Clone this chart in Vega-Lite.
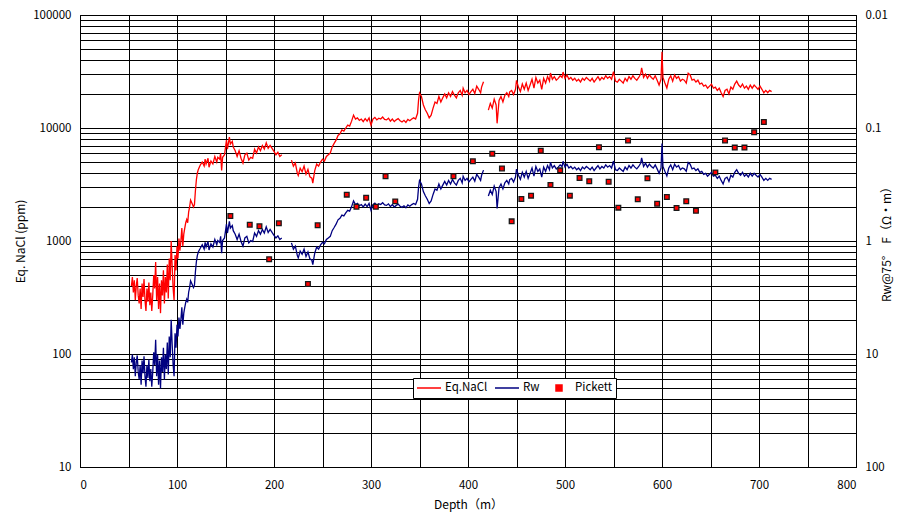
{
"$schema": "https://vega.github.io/schema/vega-lite/v6.json",
"width": 776, "height": 452,
"autosize": "none",
"padding": {"left": 80, "top": 15, "right": 50, "bottom": 49},
"background": "white",
"config": {
  "font": "Noto Sans CJK JP",
  "view": {"stroke": "#000", "strokeWidth": 1},
  "axis": {"labelFont": "Noto Sans CJK JP", "labelFontSize": 11.5, "labelColor": "#000", "titleFont": "Noto Sans CJK JP", "titleFontSize": 12, "titleFontWeight": "normal", "titleColor": "#000", "domainColor": "#000", "gridColor": "#000", "gridOpacity": 1, "gridWidth": 1, "ticks": false}
},
"datasets": {
"nacl": [
{"depth":53,"ppm":400,"seg":1},{"depth":54,"ppm":480,"seg":1},{"depth":55,"ppm":350,"seg":1},{"depth":56,"ppm":450,"seg":1},{"depth":57,"ppm":300,"seg":1},{"depth":58,"ppm":400,"seg":1},{"depth":59,"ppm":470,"seg":1},{"depth":60,"ppm":330,"seg":1},{"depth":61,"ppm":280,"seg":1},{"depth":62,"ppm":380,"seg":1},{"depth":63,"ppm":250,"seg":1},{"depth":64,"ppm":420,"seg":1},{"depth":65,"ppm":320,"seg":1},{"depth":66,"ppm":460,"seg":1},{"depth":67,"ppm":300,"seg":1},{"depth":68,"ppm":240,"seg":1},{"depth":69,"ppm":380,"seg":1},{"depth":70,"ppm":290,"seg":1},{"depth":71,"ppm":430,"seg":1},{"depth":72,"ppm":270,"seg":1},{"depth":73,"ppm":350,"seg":1},{"depth":74,"ppm":240,"seg":1},{"depth":75,"ppm":330,"seg":1},{"depth":76,"ppm":500,"seg":1},{"depth":77,"ppm":380,"seg":1},{"depth":78,"ppm":650,"seg":1},{"depth":79,"ppm":300,"seg":1},{"depth":80,"ppm":480,"seg":1},{"depth":81,"ppm":250,"seg":1},{"depth":82,"ppm":420,"seg":1},{"depth":83,"ppm":230,"seg":1},{"depth":84,"ppm":450,"seg":1},{"depth":85,"ppm":330,"seg":1},{"depth":86,"ppm":550,"seg":1},{"depth":87,"ppm":280,"seg":1},{"depth":88,"ppm":480,"seg":1},{"depth":89,"ppm":350,"seg":1},{"depth":90,"ppm":620,"seg":1},{"depth":91,"ppm":310,"seg":1},{"depth":92,"ppm":700,"seg":1},{"depth":93,"ppm":450,"seg":1},{"depth":94,"ppm":1000,"seg":1},{"depth":95,"ppm":600,"seg":1},{"depth":96,"ppm":380,"seg":1},{"depth":97,"ppm":300,"seg":1},{"depth":98,"ppm":750,"seg":1},{"depth":99,"ppm":550,"seg":1},{"depth":100,"ppm":900,"seg":1},{"depth":101,"ppm":700,"seg":1},{"depth":102,"ppm":1050,"seg":1},{"depth":103,"ppm":820,"seg":1},{"depth":104,"ppm":1000,"seg":1},{"depth":105,"ppm":1300,"seg":1},{"depth":106,"ppm":900,"seg":1},{"depth":107,"ppm":1150,"seg":1},{"depth":108,"ppm":1300,"seg":1},{"depth":109,"ppm":1450,"seg":1},{"depth":110,"ppm":1550,"seg":1},{"depth":111,"ppm":1450,"seg":1},{"depth":112,"ppm":1800,"seg":1},{"depth":113,"ppm":2000,"seg":1},{"depth":114,"ppm":2300,"seg":1},{"depth":115,"ppm":2200,"seg":1},{"depth":116,"ppm":2100,"seg":1},{"depth":117,"ppm":2000,"seg":1},{"depth":118,"ppm":2100,"seg":1},{"depth":119,"ppm":2800,"seg":1},{"depth":120,"ppm":3500,"seg":1},{"depth":121,"ppm":4000,"seg":1},{"depth":122,"ppm":4300,"seg":1},{"depth":123,"ppm":4500,"seg":1},{"depth":124,"ppm":4700,"seg":1},{"depth":126,"ppm":5000,"seg":1},{"depth":128,"ppm":4600,"seg":1},{"depth":129,"ppm":5300,"seg":1},{"depth":130,"ppm":4800,"seg":1},{"depth":132,"ppm":5400,"seg":1},{"depth":133,"ppm":4500,"seg":1},{"depth":135,"ppm":5100,"seg":1},{"depth":137,"ppm":4800,"seg":1},{"depth":139,"ppm":5600,"seg":1},{"depth":141,"ppm":5000,"seg":1},{"depth":142,"ppm":5500,"seg":1},{"depth":144,"ppm":5300,"seg":1},{"depth":145,"ppm":6000,"seg":1},{"depth":146,"ppm":4200,"seg":1},{"depth":147,"ppm":5500,"seg":1},{"depth":149,"ppm":5800,"seg":1},{"depth":151,"ppm":7800,"seg":1},{"depth":152,"ppm":6500,"seg":1},{"depth":154,"ppm":8300,"seg":1},{"depth":155,"ppm":7200,"seg":1},{"depth":157,"ppm":7600,"seg":1},{"depth":158,"ppm":6800,"seg":1},{"depth":160,"ppm":6300,"seg":1},{"depth":162,"ppm":5600,"seg":1},{"depth":164,"ppm":6300,"seg":1},{"depth":166,"ppm":5400,"seg":1},{"depth":168,"ppm":4900,"seg":1},{"depth":170,"ppm":5800,"seg":1},{"depth":172,"ppm":6000,"seg":1},{"depth":174,"ppm":5200,"seg":1},{"depth":176,"ppm":5500,"seg":1},{"depth":178,"ppm":5400,"seg":1},{"depth":180,"ppm":6500,"seg":1},{"depth":182,"ppm":6000,"seg":1},{"depth":184,"ppm":6800,"seg":1},{"depth":186,"ppm":6300,"seg":1},{"depth":188,"ppm":7000,"seg":1},{"depth":190,"ppm":6500,"seg":1},{"depth":192,"ppm":7400,"seg":1},{"depth":194,"ppm":6600,"seg":1},{"depth":196,"ppm":7000,"seg":1},{"depth":198,"ppm":6600,"seg":1},{"depth":200,"ppm":6200,"seg":1},{"depth":202,"ppm":5800,"seg":1},{"depth":204,"ppm":6100,"seg":1},{"depth":206,"ppm":5600,"seg":1},{"depth":208,"ppm":5800,"seg":1},
{"depth":218,"ppm":5200,"seg":2},{"depth":220,"ppm":4600,"seg":2},{"depth":222,"ppm":4900,"seg":2},{"depth":224,"ppm":4000,"seg":2},{"depth":225,"ppm":3800,"seg":2},{"depth":227,"ppm":4400,"seg":2},{"depth":229,"ppm":4100,"seg":2},{"depth":231,"ppm":4600,"seg":2},{"depth":233,"ppm":3900,"seg":2},{"depth":235,"ppm":4300,"seg":2},{"depth":237,"ppm":3700,"seg":2},{"depth":239,"ppm":3600,"seg":2},{"depth":240,"ppm":3250,"seg":2},{"depth":242,"ppm":4200,"seg":2},{"depth":244,"ppm":4800,"seg":2},{"depth":246,"ppm":4600,"seg":2},{"depth":248,"ppm":5000,"seg":2},{"depth":250,"ppm":5300,"seg":2},{"depth":252,"ppm":5100,"seg":2},{"depth":254,"ppm":5600,"seg":2},{"depth":256,"ppm":5800,"seg":2},{"depth":258,"ppm":6000,"seg":2},{"depth":260,"ppm":6800,"seg":2},{"depth":262,"ppm":7300,"seg":2},{"depth":264,"ppm":7800,"seg":2},{"depth":266,"ppm":8600,"seg":2},{"depth":268,"ppm":8900,"seg":2},{"depth":270,"ppm":9600,"seg":2},{"depth":272,"ppm":9400,"seg":2},{"depth":274,"ppm":10000,"seg":2},{"depth":276,"ppm":10600,"seg":2},{"depth":278,"ppm":10400,"seg":2},{"depth":280,"ppm":11500,"seg":2},{"depth":282,"ppm":13000,"seg":2},{"depth":284,"ppm":12000,"seg":2},{"depth":286,"ppm":12300,"seg":2},{"depth":288,"ppm":11700,"seg":2},{"depth":290,"ppm":12000,"seg":2},{"depth":292,"ppm":11400,"seg":2},{"depth":294,"ppm":12100,"seg":2},{"depth":296,"ppm":11500,"seg":2},{"depth":298,"ppm":12300,"seg":2},{"depth":300,"ppm":10600,"seg":2},{"depth":302,"ppm":12000,"seg":2},{"depth":304,"ppm":12400,"seg":2},{"depth":306,"ppm":11800,"seg":2},{"depth":308,"ppm":12200,"seg":2},{"depth":310,"ppm":12000,"seg":2},{"depth":312,"ppm":12500,"seg":2},{"depth":314,"ppm":11900,"seg":2},{"depth":316,"ppm":11800,"seg":2},{"depth":318,"ppm":12200,"seg":2},{"depth":320,"ppm":11500,"seg":2},{"depth":322,"ppm":12000,"seg":2},{"depth":324,"ppm":11400,"seg":2},{"depth":326,"ppm":11800,"seg":2},{"depth":328,"ppm":12100,"seg":2},{"depth":330,"ppm":11600,"seg":2},{"depth":332,"ppm":11300,"seg":2},{"depth":334,"ppm":11700,"seg":2},{"depth":336,"ppm":11200,"seg":2},{"depth":338,"ppm":11900,"seg":2},{"depth":340,"ppm":11600,"seg":2},{"depth":342,"ppm":12000,"seg":2},{"depth":344,"ppm":12300,"seg":2},{"depth":346,"ppm":12000,"seg":2},{"depth":348,"ppm":13500,"seg":2},{"depth":349,"ppm":17500,"seg":2},{"depth":350,"ppm":20400,"seg":2},{"depth":352,"ppm":19000,"seg":2},{"depth":354,"ppm":16000,"seg":2},{"depth":356,"ppm":14500,"seg":2},{"depth":358,"ppm":13500,"seg":2},{"depth":360,"ppm":12300,"seg":2},{"depth":362,"ppm":13000,"seg":2},{"depth":364,"ppm":15000,"seg":2},{"depth":366,"ppm":17000,"seg":2},{"depth":368,"ppm":16500,"seg":2},{"depth":370,"ppm":19000,"seg":2},{"depth":372,"ppm":17000,"seg":2},{"depth":374,"ppm":18500,"seg":2},{"depth":376,"ppm":20000,"seg":2},{"depth":378,"ppm":18500,"seg":2},{"depth":380,"ppm":20500,"seg":2},{"depth":382,"ppm":19000,"seg":2},{"depth":384,"ppm":21000,"seg":2},{"depth":386,"ppm":19500,"seg":2},{"depth":388,"ppm":18500,"seg":2},{"depth":390,"ppm":20500,"seg":2},{"depth":392,"ppm":21500,"seg":2},{"depth":394,"ppm":19500,"seg":2},{"depth":395,"ppm":22500,"seg":2},{"depth":397,"ppm":20500,"seg":2},{"depth":399,"ppm":21500,"seg":2},{"depth":401,"ppm":19800,"seg":2},{"depth":403,"ppm":21000,"seg":2},{"depth":405,"ppm":22000,"seg":2},{"depth":407,"ppm":20200,"seg":2},{"depth":409,"ppm":23500,"seg":2},{"depth":411,"ppm":22000,"seg":2},{"depth":413,"ppm":20500,"seg":2},{"depth":414,"ppm":23000,"seg":2},{"depth":416,"ppm":25700,"seg":2},
{"depth":421,"ppm":14400,"seg":3},{"depth":423,"ppm":16500,"seg":3},{"depth":425,"ppm":15000,"seg":3},{"depth":427,"ppm":18000,"seg":3},{"depth":429,"ppm":16000,"seg":3},{"depth":430,"ppm":11000,"seg":3},{"depth":432,"ppm":17500,"seg":3},{"depth":434,"ppm":19000,"seg":3},{"depth":436,"ppm":17000,"seg":3},{"depth":438,"ppm":19500,"seg":3},{"depth":440,"ppm":20500,"seg":3},{"depth":442,"ppm":19000,"seg":3},{"depth":443,"ppm":20900,"seg":3},{"depth":445,"ppm":21500,"seg":3},{"depth":447,"ppm":19800,"seg":3},{"depth":449,"ppm":22000,"seg":3},{"depth":450,"ppm":26400,"seg":3},{"depth":452,"ppm":23000,"seg":3},{"depth":454,"ppm":21000,"seg":3},{"depth":456,"ppm":24500,"seg":3},{"depth":458,"ppm":22000,"seg":3},{"depth":460,"ppm":25000,"seg":3},{"depth":462,"ppm":21500,"seg":3},{"depth":464,"ppm":24000,"seg":3},{"depth":466,"ppm":27000,"seg":3},{"depth":468,"ppm":22500,"seg":3},{"depth":470,"ppm":28000,"seg":3},{"depth":472,"ppm":25000,"seg":3},{"depth":474,"ppm":26500,"seg":3},{"depth":476,"ppm":22000,"seg":3},{"depth":478,"ppm":27500,"seg":3},{"depth":480,"ppm":25000,"seg":3},{"depth":482,"ppm":28500,"seg":3},{"depth":484,"ppm":26000,"seg":3},{"depth":485,"ppm":30700,"seg":3},{"depth":487,"ppm":27000,"seg":3},{"depth":489,"ppm":28500,"seg":3},{"depth":491,"ppm":26500,"seg":3},{"depth":493,"ppm":27500,"seg":3},{"depth":495,"ppm":29000,"seg":3},{"depth":497,"ppm":28000,"seg":3},{"depth":498,"ppm":31300,"seg":3},{"depth":500,"ppm":27500,"seg":3},{"depth":502,"ppm":29500,"seg":3},{"depth":504,"ppm":27000,"seg":3},{"depth":506,"ppm":28000,"seg":3},{"depth":508,"ppm":26500,"seg":3},{"depth":510,"ppm":27500,"seg":3},{"depth":512,"ppm":26000,"seg":3},{"depth":514,"ppm":27000,"seg":3},{"depth":516,"ppm":25500,"seg":3},{"depth":518,"ppm":27500,"seg":3},{"depth":520,"ppm":26500,"seg":3},{"depth":522,"ppm":28000,"seg":3},{"depth":524,"ppm":27000,"seg":3},{"depth":526,"ppm":26000,"seg":3},{"depth":528,"ppm":27500,"seg":3},{"depth":530,"ppm":25500,"seg":3},{"depth":532,"ppm":27000,"seg":3},{"depth":534,"ppm":28500,"seg":3},{"depth":536,"ppm":26500,"seg":3},{"depth":538,"ppm":28000,"seg":3},{"depth":540,"ppm":27000,"seg":3},{"depth":542,"ppm":29000,"seg":3},{"depth":544,"ppm":27500,"seg":3},{"depth":546,"ppm":28500,"seg":3},{"depth":548,"ppm":27000,"seg":3},{"depth":550,"ppm":31500,"seg":3},{"depth":552,"ppm":26000,"seg":3},{"depth":554,"ppm":25500,"seg":3},{"depth":556,"ppm":27000,"seg":3},{"depth":558,"ppm":26000,"seg":3},{"depth":560,"ppm":25000,"seg":3},{"depth":562,"ppm":27500,"seg":3},{"depth":564,"ppm":26000,"seg":3},{"depth":566,"ppm":28500,"seg":3},{"depth":568,"ppm":27000,"seg":3},{"depth":570,"ppm":29000,"seg":3},{"depth":572,"ppm":27500,"seg":3},{"depth":574,"ppm":26500,"seg":3},{"depth":576,"ppm":28000,"seg":3},{"depth":578,"ppm":30000,"seg":3},{"depth":579,"ppm":34000,"seg":3},{"depth":581,"ppm":28000,"seg":3},{"depth":583,"ppm":30000,"seg":3},{"depth":585,"ppm":27500,"seg":3},{"depth":587,"ppm":29500,"seg":3},{"depth":589,"ppm":28000,"seg":3},{"depth":591,"ppm":27000,"seg":3},{"depth":593,"ppm":29000,"seg":3},{"depth":595,"ppm":26500,"seg":3},{"depth":597,"ppm":24000,"seg":3},{"depth":599,"ppm":27000,"seg":3},{"depth":600,"ppm":47300,"seg":3},{"depth":601,"ppm":28000,"seg":3},{"depth":603,"ppm":25000,"seg":3},{"depth":605,"ppm":22600,"seg":3},{"depth":607,"ppm":27000,"seg":3},{"depth":609,"ppm":29000,"seg":3},{"depth":611,"ppm":26000,"seg":3},{"depth":613,"ppm":29500,"seg":3},{"depth":615,"ppm":27500,"seg":3},{"depth":617,"ppm":28500,"seg":3},{"depth":619,"ppm":26000,"seg":3},{"depth":621,"ppm":27000,"seg":3},{"depth":623,"ppm":26500,"seg":3},{"depth":625,"ppm":25000,"seg":3},{"depth":627,"ppm":30500,"seg":3},{"depth":629,"ppm":29500,"seg":3},{"depth":631,"ppm":26500,"seg":3},{"depth":633,"ppm":27000,"seg":3},{"depth":635,"ppm":25500,"seg":3},{"depth":637,"ppm":26500,"seg":3},{"depth":639,"ppm":24500,"seg":3},{"depth":641,"ppm":25000,"seg":3},{"depth":643,"ppm":23500,"seg":3},{"depth":645,"ppm":24000,"seg":3},{"depth":647,"ppm":22500,"seg":3},{"depth":649,"ppm":23500,"seg":3},{"depth":651,"ppm":24500,"seg":3},{"depth":653,"ppm":22500,"seg":3},{"depth":655,"ppm":23000,"seg":3},{"depth":657,"ppm":21500,"seg":3},{"depth":659,"ppm":22500,"seg":3},{"depth":661,"ppm":20500,"seg":3},{"depth":663,"ppm":19000,"seg":3},{"depth":665,"ppm":21500,"seg":3},{"depth":667,"ppm":22000,"seg":3},{"depth":669,"ppm":20000,"seg":3},{"depth":671,"ppm":23000,"seg":3},{"depth":673,"ppm":22000,"seg":3},{"depth":675,"ppm":24500,"seg":3},{"depth":677,"ppm":26000,"seg":3},{"depth":679,"ppm":24000,"seg":3},{"depth":681,"ppm":23000,"seg":3},{"depth":683,"ppm":24500,"seg":3},{"depth":685,"ppm":22500,"seg":3},{"depth":687,"ppm":23500,"seg":3},{"depth":689,"ppm":22000,"seg":3},{"depth":691,"ppm":24000,"seg":3},{"depth":693,"ppm":22500,"seg":3},{"depth":695,"ppm":24000,"seg":3},{"depth":697,"ppm":23000,"seg":3},{"depth":699,"ppm":22000,"seg":3},{"depth":701,"ppm":23500,"seg":3},{"depth":703,"ppm":22000,"seg":3},{"depth":705,"ppm":20500,"seg":3},{"depth":707,"ppm":21500,"seg":3},{"depth":709,"ppm":20500,"seg":3},{"depth":711,"ppm":21500,"seg":3},{"depth":713,"ppm":21000,"seg":3}
],
"rw": [
{"depth":53,"rw":11.9,"seg":1},{"depth":54,"rw":10.1,"seg":1},{"depth":55,"rw":13.6,"seg":1},{"depth":56,"rw":10.7,"seg":1},{"depth":57,"rw":15.7,"seg":1},{"depth":58,"rw":11.9,"seg":1},{"depth":59,"rw":10.3,"seg":1},{"depth":60,"rw":14.4,"seg":1},{"depth":61,"rw":16.8,"seg":1},{"depth":62,"rw":12.5,"seg":1},{"depth":63,"rw":18.7,"seg":1},{"depth":64,"rw":11.4,"seg":1},{"depth":65,"rw":14.8,"seg":1},{"depth":66,"rw":10.5,"seg":1},{"depth":67,"rw":15.7,"seg":1},{"depth":68,"rw":19.5,"seg":1},{"depth":69,"rw":12.5,"seg":1},{"depth":70,"rw":16.3,"seg":1},{"depth":71,"rw":11.2,"seg":1},{"depth":72,"rw":17.4,"seg":1},{"depth":73,"rw":13.6,"seg":1},{"depth":74,"rw":19.5,"seg":1},{"depth":75,"rw":14.4,"seg":1},{"depth":76,"rw":9.65,"seg":1},{"depth":77,"rw":12.5,"seg":1},{"depth":78,"rw":7.5,"seg":1},{"depth":79,"rw":15.7,"seg":1},{"depth":80,"rw":10.1,"seg":1},{"depth":81,"rw":18.7,"seg":1},{"depth":82,"rw":11.4,"seg":1},{"depth":83,"rw":20.2,"seg":1},{"depth":84,"rw":10.7,"seg":1},{"depth":85,"rw":14.4,"seg":1},{"depth":86,"rw":8.8,"seg":1},{"depth":87,"rw":16.8,"seg":1},{"depth":88,"rw":10.1,"seg":1},{"depth":89,"rw":13.6,"seg":1},{"depth":90,"rw":7.9,"seg":1},{"depth":91,"rw":15.2,"seg":1},{"depth":92,"rw":7.0,"seg":1},{"depth":93,"rw":10.7,"seg":1},{"depth":94,"rw":4.98,"seg":1},{"depth":95,"rw":8.1,"seg":1},{"depth":96,"rw":12.5,"seg":1},{"depth":97,"rw":15.7,"seg":1},{"depth":98,"rw":6.55,"seg":1},{"depth":99,"rw":8.8,"seg":1},{"depth":100,"rw":5.5,"seg":1},{"depth":101,"rw":7.0,"seg":1},{"depth":102,"rw":4.75,"seg":1},{"depth":103,"rw":6.0,"seg":1},{"depth":104,"rw":4.98,"seg":1},{"depth":105,"rw":3.87,"seg":1},{"depth":106,"rw":5.5,"seg":1},{"depth":107,"rw":4.35,"seg":1},{"depth":108,"rw":3.87,"seg":1},{"depth":109,"rw":3.49,"seg":1},{"depth":110,"rw":3.27,"seg":1},{"depth":111,"rw":3.49,"seg":1},{"depth":112,"rw":2.84,"seg":1},{"depth":113,"rw":2.58,"seg":1},{"depth":114,"rw":2.25,"seg":1},{"depth":115,"rw":2.35,"seg":1},{"depth":116,"rw":2.46,"seg":1},{"depth":117,"rw":2.58,"seg":1},{"depth":118,"rw":2.46,"seg":1},{"depth":119,"rw":1.87,"seg":1},{"depth":120,"rw":1.52,"seg":1},{"depth":121,"rw":1.34,"seg":1},{"depth":122,"rw":1.25,"seg":1},{"depth":123,"rw":1.2,"seg":1},{"depth":124,"rw":1.16,"seg":1},{"depth":126,"rw":1.08,"seg":1},{"depth":128,"rw":1.18,"seg":1},{"depth":129,"rw":1.03,"seg":1},{"depth":130,"rw":1.13,"seg":1},{"depth":132,"rw":1.01,"seg":1},{"depth":133,"rw":1.2,"seg":1},{"depth":135,"rw":1.06,"seg":1},{"depth":137,"rw":1.13,"seg":1},{"depth":139,"rw":0.97,"seg":1},{"depth":141,"rw":1.08,"seg":1},{"depth":142,"rw":0.99,"seg":1},{"depth":144,"rw":1.03,"seg":1},{"depth":145,"rw":0.91,"seg":1},{"depth":146,"rw":1.28,"seg":1},{"depth":147,"rw":0.99,"seg":1},{"depth":149,"rw":0.94,"seg":1},{"depth":151,"rw":0.71,"seg":1},{"depth":152,"rw":0.85,"seg":1},{"depth":154,"rw":0.67,"seg":1},{"depth":155,"rw":0.77,"seg":1},{"depth":157,"rw":0.73,"seg":1},{"depth":158,"rw":0.81,"seg":1},{"depth":160,"rw":0.87,"seg":1},{"depth":162,"rw":0.97,"seg":1},{"depth":164,"rw":0.87,"seg":1},{"depth":166,"rw":1.01,"seg":1},{"depth":168,"rw":1.11,"seg":1},{"depth":170,"rw":0.94,"seg":1},{"depth":172,"rw":0.91,"seg":1},{"depth":174,"rw":1.04,"seg":1},{"depth":176,"rw":0.99,"seg":1},{"depth":178,"rw":1.01,"seg":1},{"depth":180,"rw":0.85,"seg":1},{"depth":182,"rw":0.91,"seg":1},{"depth":184,"rw":0.81,"seg":1},{"depth":186,"rw":0.87,"seg":1},{"depth":188,"rw":0.79,"seg":1},{"depth":190,"rw":0.85,"seg":1},{"depth":192,"rw":0.75,"seg":1},{"depth":194,"rw":0.84,"seg":1},{"depth":196,"rw":0.79,"seg":1},{"depth":198,"rw":0.84,"seg":1},{"depth":200,"rw":0.89,"seg":1},{"depth":202,"rw":0.94,"seg":1},{"depth":204,"rw":0.9,"seg":1},{"depth":206,"rw":0.97,"seg":1},{"depth":208,"rw":0.94,"seg":1},
{"depth":218,"rw":1.04,"seg":2},{"depth":220,"rw":1.18,"seg":2},{"depth":222,"rw":1.11,"seg":2},{"depth":224,"rw":1.34,"seg":2},{"depth":225,"rw":1.41,"seg":2},{"depth":227,"rw":1.23,"seg":2},{"depth":229,"rw":1.31,"seg":2},{"depth":231,"rw":1.18,"seg":2},{"depth":233,"rw":1.37,"seg":2},{"depth":235,"rw":1.25,"seg":2},{"depth":237,"rw":1.44,"seg":2},{"depth":239,"rw":1.48,"seg":2},{"depth":240,"rw":1.62,"seg":2},{"depth":242,"rw":1.28,"seg":2},{"depth":244,"rw":1.13,"seg":2},{"depth":246,"rw":1.18,"seg":2},{"depth":248,"rw":1.08,"seg":2},{"depth":250,"rw":1.03,"seg":2},{"depth":252,"rw":1.06,"seg":2},{"depth":254,"rw":0.97,"seg":2},{"depth":256,"rw":0.94,"seg":2},{"depth":258,"rw":0.91,"seg":2},{"depth":260,"rw":0.81,"seg":2},{"depth":262,"rw":0.76,"seg":2},{"depth":264,"rw":0.71,"seg":2},{"depth":266,"rw":0.65,"seg":2},{"depth":268,"rw":0.63,"seg":2},{"depth":270,"rw":0.59,"seg":2},{"depth":272,"rw":0.6,"seg":2},{"depth":274,"rw":0.564,"seg":2},{"depth":276,"rw":0.535,"seg":2},{"depth":278,"rw":0.545,"seg":2},{"depth":280,"rw":0.496,"seg":2},{"depth":282,"rw":0.442,"seg":2},{"depth":284,"rw":0.476,"seg":2},{"depth":286,"rw":0.465,"seg":2},{"depth":288,"rw":0.488,"seg":2},{"depth":290,"rw":0.476,"seg":2},{"depth":292,"rw":0.5,"seg":2},{"depth":294,"rw":0.472,"seg":2},{"depth":296,"rw":0.496,"seg":2},{"depth":298,"rw":0.465,"seg":2},{"depth":300,"rw":0.535,"seg":2},{"depth":302,"rw":0.476,"seg":2},{"depth":304,"rw":0.462,"seg":2},{"depth":306,"rw":0.484,"seg":2},{"depth":308,"rw":0.469,"seg":2},{"depth":310,"rw":0.476,"seg":2},{"depth":312,"rw":0.458,"seg":2},{"depth":314,"rw":0.48,"seg":2},{"depth":316,"rw":0.484,"seg":2},{"depth":318,"rw":0.469,"seg":2},{"depth":320,"rw":0.496,"seg":2},{"depth":322,"rw":0.476,"seg":2},{"depth":324,"rw":0.5,"seg":2},{"depth":326,"rw":0.484,"seg":2},{"depth":328,"rw":0.472,"seg":2},{"depth":330,"rw":0.492,"seg":2},{"depth":332,"rw":0.504,"seg":2},{"depth":334,"rw":0.488,"seg":2},{"depth":336,"rw":0.508,"seg":2},{"depth":338,"rw":0.48,"seg":2},{"depth":340,"rw":0.492,"seg":2},{"depth":342,"rw":0.476,"seg":2},{"depth":344,"rw":0.465,"seg":2},{"depth":346,"rw":0.476,"seg":2},{"depth":348,"rw":0.427,"seg":2},{"depth":349,"rw":0.337,"seg":2},{"depth":350,"rw":0.292,"seg":2},{"depth":352,"rw":0.313,"seg":2},{"depth":354,"rw":0.365,"seg":2},{"depth":356,"rw":0.398,"seg":2},{"depth":358,"rw":0.427,"seg":2},{"depth":360,"rw":0.465,"seg":2},{"depth":362,"rw":0.442,"seg":2},{"depth":364,"rw":0.387,"seg":2},{"depth":366,"rw":0.346,"seg":2},{"depth":368,"rw":0.355,"seg":2},{"depth":370,"rw":0.313,"seg":2},{"depth":372,"rw":0.346,"seg":2},{"depth":374,"rw":0.32,"seg":2},{"depth":376,"rw":0.297,"seg":2},{"depth":378,"rw":0.32,"seg":2},{"depth":380,"rw":0.291,"seg":2},{"depth":382,"rw":0.313,"seg":2},{"depth":384,"rw":0.285,"seg":2},{"depth":386,"rw":0.306,"seg":2},{"depth":388,"rw":0.32,"seg":2},{"depth":390,"rw":0.291,"seg":2},{"depth":392,"rw":0.279,"seg":2},{"depth":394,"rw":0.306,"seg":2},{"depth":395,"rw":0.267,"seg":2},{"depth":397,"rw":0.291,"seg":2},{"depth":399,"rw":0.279,"seg":2},{"depth":401,"rw":0.3,"seg":2},{"depth":403,"rw":0.285,"seg":2},{"depth":405,"rw":0.272,"seg":2},{"depth":407,"rw":0.295,"seg":2},{"depth":409,"rw":0.257,"seg":2},{"depth":411,"rw":0.272,"seg":2},{"depth":413,"rw":0.291,"seg":2},{"depth":414,"rw":0.262,"seg":2},{"depth":416,"rw":0.236,"seg":2},
{"depth":421,"rw":0.4,"seg":3},{"depth":423,"rw":0.355,"seg":3},{"depth":425,"rw":0.387,"seg":3},{"depth":427,"rw":0.327,"seg":3},{"depth":429,"rw":0.365,"seg":3},{"depth":430,"rw":0.516,"seg":3},{"depth":432,"rw":0.337,"seg":3},{"depth":434,"rw":0.313,"seg":3},{"depth":436,"rw":0.346,"seg":3},{"depth":438,"rw":0.306,"seg":3},{"depth":440,"rw":0.291,"seg":3},{"depth":442,"rw":0.313,"seg":3},{"depth":443,"rw":0.286,"seg":3},{"depth":445,"rw":0.279,"seg":3},{"depth":447,"rw":0.3,"seg":3},{"depth":449,"rw":0.272,"seg":3},{"depth":450,"rw":0.231,"seg":3},{"depth":452,"rw":0.262,"seg":3},{"depth":454,"rw":0.285,"seg":3},{"depth":456,"rw":0.247,"seg":3},{"depth":458,"rw":0.272,"seg":3},{"depth":460,"rw":0.242,"seg":3},{"depth":462,"rw":0.279,"seg":3},{"depth":464,"rw":0.252,"seg":3},{"depth":466,"rw":0.226,"seg":3},{"depth":468,"rw":0.267,"seg":3},{"depth":470,"rw":0.219,"seg":3},{"depth":472,"rw":0.242,"seg":3},{"depth":474,"rw":0.23,"seg":3},{"depth":476,"rw":0.272,"seg":3},{"depth":478,"rw":0.222,"seg":3},{"depth":480,"rw":0.242,"seg":3},{"depth":482,"rw":0.215,"seg":3},{"depth":484,"rw":0.234,"seg":3},{"depth":485,"rw":0.201,"seg":3},{"depth":487,"rw":0.226,"seg":3},{"depth":489,"rw":0.215,"seg":3},{"depth":491,"rw":0.23,"seg":3},{"depth":493,"rw":0.222,"seg":3},{"depth":495,"rw":0.212,"seg":3},{"depth":497,"rw":0.219,"seg":3},{"depth":498,"rw":0.197,"seg":3},{"depth":500,"rw":0.222,"seg":3},{"depth":502,"rw":0.209,"seg":3},{"depth":504,"rw":0.226,"seg":3},{"depth":506,"rw":0.219,"seg":3},{"depth":508,"rw":0.23,"seg":3},{"depth":510,"rw":0.222,"seg":3},{"depth":512,"rw":0.234,"seg":3},{"depth":514,"rw":0.226,"seg":3},{"depth":516,"rw":0.238,"seg":3},{"depth":518,"rw":0.222,"seg":3},{"depth":520,"rw":0.23,"seg":3},{"depth":522,"rw":0.219,"seg":3},{"depth":524,"rw":0.226,"seg":3},{"depth":526,"rw":0.234,"seg":3},{"depth":528,"rw":0.222,"seg":3},{"depth":530,"rw":0.238,"seg":3},{"depth":532,"rw":0.226,"seg":3},{"depth":534,"rw":0.215,"seg":3},{"depth":536,"rw":0.23,"seg":3},{"depth":538,"rw":0.219,"seg":3},{"depth":540,"rw":0.226,"seg":3},{"depth":542,"rw":0.212,"seg":3},{"depth":544,"rw":0.222,"seg":3},{"depth":546,"rw":0.215,"seg":3},{"depth":548,"rw":0.226,"seg":3},{"depth":550,"rw":0.196,"seg":3},{"depth":552,"rw":0.234,"seg":3},{"depth":554,"rw":0.238,"seg":3},{"depth":556,"rw":0.226,"seg":3},{"depth":558,"rw":0.234,"seg":3},{"depth":560,"rw":0.242,"seg":3},{"depth":562,"rw":0.222,"seg":3},{"depth":564,"rw":0.234,"seg":3},{"depth":566,"rw":0.215,"seg":3},{"depth":568,"rw":0.226,"seg":3},{"depth":570,"rw":0.212,"seg":3},{"depth":572,"rw":0.222,"seg":3},{"depth":574,"rw":0.23,"seg":3},{"depth":576,"rw":0.219,"seg":3},{"depth":578,"rw":0.205,"seg":3},{"depth":579,"rw":0.184,"seg":3},{"depth":581,"rw":0.219,"seg":3},{"depth":583,"rw":0.205,"seg":3},{"depth":585,"rw":0.222,"seg":3},{"depth":587,"rw":0.209,"seg":3},{"depth":589,"rw":0.219,"seg":3},{"depth":591,"rw":0.226,"seg":3},{"depth":593,"rw":0.212,"seg":3},{"depth":595,"rw":0.23,"seg":3},{"depth":597,"rw":0.252,"seg":3},{"depth":599,"rw":0.226,"seg":3},{"depth":600,"rw":0.137,"seg":3},{"depth":601,"rw":0.219,"seg":3},{"depth":603,"rw":0.242,"seg":3},{"depth":605,"rw":0.266,"seg":3},{"depth":607,"rw":0.226,"seg":3},{"depth":609,"rw":0.212,"seg":3},{"depth":611,"rw":0.234,"seg":3},{"depth":613,"rw":0.209,"seg":3},{"depth":615,"rw":0.222,"seg":3},{"depth":617,"rw":0.215,"seg":3},{"depth":619,"rw":0.234,"seg":3},{"depth":621,"rw":0.226,"seg":3},{"depth":623,"rw":0.23,"seg":3},{"depth":625,"rw":0.242,"seg":3},{"depth":627,"rw":0.202,"seg":3},{"depth":629,"rw":0.209,"seg":3},{"depth":631,"rw":0.23,"seg":3},{"depth":633,"rw":0.226,"seg":3},{"depth":635,"rw":0.238,"seg":3},{"depth":637,"rw":0.23,"seg":3},{"depth":639,"rw":0.247,"seg":3},{"depth":641,"rw":0.242,"seg":3},{"depth":643,"rw":0.257,"seg":3},{"depth":645,"rw":0.252,"seg":3},{"depth":647,"rw":0.267,"seg":3},{"depth":649,"rw":0.257,"seg":3},{"depth":651,"rw":0.247,"seg":3},{"depth":653,"rw":0.267,"seg":3},{"depth":655,"rw":0.262,"seg":3},{"depth":657,"rw":0.279,"seg":3},{"depth":659,"rw":0.267,"seg":3},{"depth":661,"rw":0.291,"seg":3},{"depth":663,"rw":0.313,"seg":3},{"depth":665,"rw":0.279,"seg":3},{"depth":667,"rw":0.272,"seg":3},{"depth":669,"rw":0.297,"seg":3},{"depth":671,"rw":0.262,"seg":3},{"depth":673,"rw":0.272,"seg":3},{"depth":675,"rw":0.247,"seg":3},{"depth":677,"rw":0.234,"seg":3},{"depth":679,"rw":0.252,"seg":3},{"depth":681,"rw":0.262,"seg":3},{"depth":683,"rw":0.247,"seg":3},{"depth":685,"rw":0.267,"seg":3},{"depth":687,"rw":0.257,"seg":3},{"depth":689,"rw":0.272,"seg":3},{"depth":691,"rw":0.252,"seg":3},{"depth":693,"rw":0.267,"seg":3},{"depth":695,"rw":0.252,"seg":3},{"depth":697,"rw":0.262,"seg":3},{"depth":699,"rw":0.272,"seg":3},{"depth":701,"rw":0.257,"seg":3},{"depth":703,"rw":0.272,"seg":3},{"depth":705,"rw":0.291,"seg":3},{"depth":707,"rw":0.279,"seg":3},{"depth":709,"rw":0.291,"seg":3},{"depth":711,"rw":0.279,"seg":3},{"depth":713,"rw":0.285,"seg":3}
],
"pickett": [
{"depth":155,"rw":0.6},{"depth":175,"rw":0.718},{"depth":185,"rw":0.741},{"depth":195,"rw":1.45},{"depth":205,"rw":0.697},{"depth":235,"rw":2.4},{"depth":245,"rw":0.726},{"depth":275,"rw":0.389},{"depth":285,"rw":0.497},{"depth":295,"rw":0.414},{"depth":305,"rw":0.497},{"depth":315,"rw":0.267},{"depth":325,"rw":0.446},{"depth":385,"rw":0.267},{"depth":405,"rw":0.197},{"depth":425,"rw":0.169},{"depth":435,"rw":0.228},{"depth":445,"rw":0.67},{"depth":455,"rw":0.425},{"depth":465,"rw":0.397},{"depth":475,"rw":0.159},{"depth":485,"rw":0.319},{"depth":495,"rw":0.237},{"depth":505,"rw":0.397},{"depth":515,"rw":0.277},{"depth":525,"rw":0.296},{"depth":535,"rw":0.148},{"depth":545,"rw":0.299},{"depth":555,"rw":0.507},{"depth":565,"rw":0.129},{"depth":575,"rw":0.428},{"depth":585,"rw":0.279},{"depth":595,"rw":0.468},{"depth":605,"rw":0.408},{"depth":615,"rw":0.511},{"depth":625,"rw":0.445},{"depth":635,"rw":0.54},{"depth":655,"rw":0.247},{"depth":665,"rw":0.129},{"depth":675,"rw":0.149},{"depth":685,"rw":0.149},{"depth":695,"rw":0.109},{"depth":705,"rw":0.0885}
]
},
"encoding": {
  "x": {"field": "depth", "type": "quantitative", "scale": {"domain": [0, 800], "nice": false, "zero": false},
        "axis": {"title": "Depth（m）", "values": [0,50,100,150,200,250,300,350,400,450,500,550,600,650,700,750,800], "labelExpr": "datum.value % 100 === 0 ? datum.label : ''", "grid": true, "labelPadding": 12, "titlePadding": 9, "domain": true}}
},
"layer": [
  {
    "data": {"name": "nacl"},
    "mark": {"type": "line", "strokeWidth": 1.3, "clip": true},
    "encoding": {
      "y": {"field": "ppm", "type": "quantitative", "scale": {"type": "log", "domain": [10, 100000], "nice": false},
            "axis": {"orient": "left", "title": "Eq. NaCl (ppm)", "format": "d", "values": [10,20,30,40,50,60,70,80,90,100,200,300,400,500,600,700,800,900,1000,2000,3000,4000,5000,6000,7000,8000,9000,10000,20000,30000,40000,50000,60000,70000,80000,90000,100000], "labelExpr": "(datum.value==10||datum.value==100||datum.value==1000||datum.value==10000||datum.value==100000) ? datum.label : ''", "grid": true, "labelPadding": 9, "titlePadding": 5}},
      "detail": {"field": "seg", "type": "nominal"},
      "color": {"datum": "Eq.NaCl", "type": "nominal",
        "scale": {"domain": ["Eq.NaCl", "Rw", "Pickett"], "range": ["#ff0000", "#000080", "#ff0000"]},
        "legend": {"title": null, "orient": "none", "legendX": 333, "legendY": 363, "direction": "horizontal",
          "strokeColor": "#000", "fillColor": "#fff", "padding": 3, "symbolSize": 576, "symbolType": "stroke", "symbolStrokeWidth": 1.5, "clipHeight": 14,
          "labelFont": "Noto Sans CJK JP", "labelFontSize": 11.5, "labelColor": "#000", "columnPadding": 6, "labelOffset": 3,
          "encode": {"symbols": {"update": {
            "shape": {"signal": "datum.value === 'Pickett' ? 'M-0.25,-0.25H0.25V0.25H-0.25Z' : 'stroke'"},
            "fill": {"signal": "datum.value === 'Pickett' ? '#ff0000' : 'transparent'"},
            "stroke": {"signal": "datum.value === 'Pickett' ? '#000000' : (datum.value === 'Rw' ? '#000080' : '#ff0000')"},
            "opacity": {"value": 1}
          }}}}
      }
    }
  },
  {
    "layer": [
      {
        "data": {"name": "rw"},
        "mark": {"type": "line", "strokeWidth": 1.3, "clip": true},
        "encoding": {
          "y": {"field": "rw", "type": "quantitative", "scale": {"type": "log", "domain": [0.01, 100], "nice": false, "reverse": true},
                "axis": {"orient": "right", "title": "Rw@75°　F（Ω・m）", "titleAngle": 270, "format": "~g", "values": [0.01,0.02,0.03,0.04,0.05,0.06,0.07,0.08,0.09,0.1,0.2,0.3,0.4,0.5,0.6,0.7,0.8,0.9,1,2,3,4,5,6,7,8,9,10,20,30,40,50,60,70,80,90,100], "labelExpr": "(datum.value==0.01||datum.value==0.1||datum.value==1||datum.value==10||datum.value==100) ? datum.label : ''", "grid": false, "labelPadding": 9, "titlePadding": 6}},
          "detail": {"field": "seg", "type": "nominal"},
          "color": {"datum": "Rw", "type": "nominal"}
        }
      },
      {
        "data": {"name": "pickett"},
        "mark": {"type": "point", "shape": "square", "filled": true, "size": 22, "stroke": "#1a1a1a", "strokeWidth": 1.3, "strokeOpacity": 1, "opacity": 1},
        "encoding": {
          "y": {"field": "rw", "type": "quantitative", "scale": {"type": "log", "domain": [0.01, 100], "nice": false, "reverse": true},
                "axis": {"orient": "right", "title": "Rw@75°　F（Ω・m）", "titleAngle": 270, "format": "~g", "values": [0.01,0.02,0.03,0.04,0.05,0.06,0.07,0.08,0.09,0.1,0.2,0.3,0.4,0.5,0.6,0.7,0.8,0.9,1,2,3,4,5,6,7,8,9,10,20,30,40,50,60,70,80,90,100], "labelExpr": "(datum.value==0.01||datum.value==0.1||datum.value==1||datum.value==10||datum.value==100) ? datum.label : ''", "grid": false, "labelPadding": 9, "titlePadding": 6}},
          "color": {"datum": "Pickett", "type": "nominal"}
        }
      }
    ]
  }
],
"resolve": {"scale": {"y": "independent"}}
}
